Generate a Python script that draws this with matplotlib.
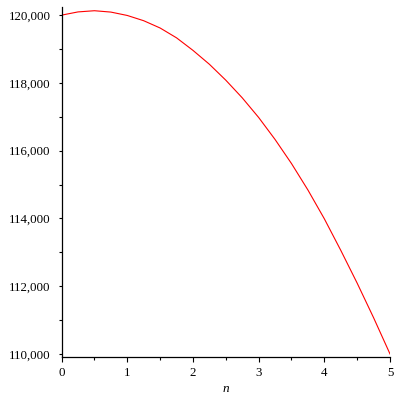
import matplotlib
matplotlib.use("Agg")
import matplotlib.pyplot as plt
from matplotlib.ticker import MultipleLocator, FuncFormatter

n_values = [0.0, 0.25, 0.5, 0.75, 1.0, 1.25, 1.5, 1.75, 2.0, 2.25, 2.5,
            2.75, 3.0, 3.25, 3.5, 3.75, 4.0, 4.25, 4.5, 4.75, 5.0]
y_values = [120000, 120095, 120130, 120090, 119990, 119835, 119620, 119330,
            118960, 118550, 118080, 117560, 116980, 116330, 115620, 114840,
            113990, 113060, 112090, 111070, 110000]
x_label = "n"

plt.rcParams['font.family'] = ['Liberation Serif', 'DejaVu Serif']

fig = plt.figure(figsize=(4, 4), dpi=100)
ax = fig.add_axes([0.154, 0.1075, 0.821, 0.875])
ax.plot(n_values, y_values, color='red', linewidth=0.8)

ax.set_xlim(0, 5)
ax.set_ylim(109910, 120240)
for s in ['top', 'right']:
    ax.spines[s].set_visible(False)
for s in ['left', 'bottom']:
    ax.spines[s].set_linewidth(0.9)

ax.xaxis.set_major_locator(MultipleLocator(1))
ax.xaxis.set_minor_locator(MultipleLocator(0.5))
ax.yaxis.set_major_locator(MultipleLocator(2000))
ax.yaxis.set_minor_locator(MultipleLocator(1000))
ax.yaxis.set_major_formatter(FuncFormatter(lambda v, p: f"{int(round(v)):,}"))

ax.tick_params(axis='x', which='major', length=3.8, width=0.8, pad=3.6, labelsize=9.3)
ax.tick_params(axis='x', which='minor', length=2.2, width=0.8)
ax.tick_params(axis='y', which='major', length=2.5, width=0.8, pad=5.5, labelsize=9.3)
ax.tick_params(axis='y', which='minor', length=2.5, width=0.8)

ax.set_xlabel(x_label, style='italic', fontsize=9.5, labelpad=3)

fig.savefig("out.png", dpi=100)
